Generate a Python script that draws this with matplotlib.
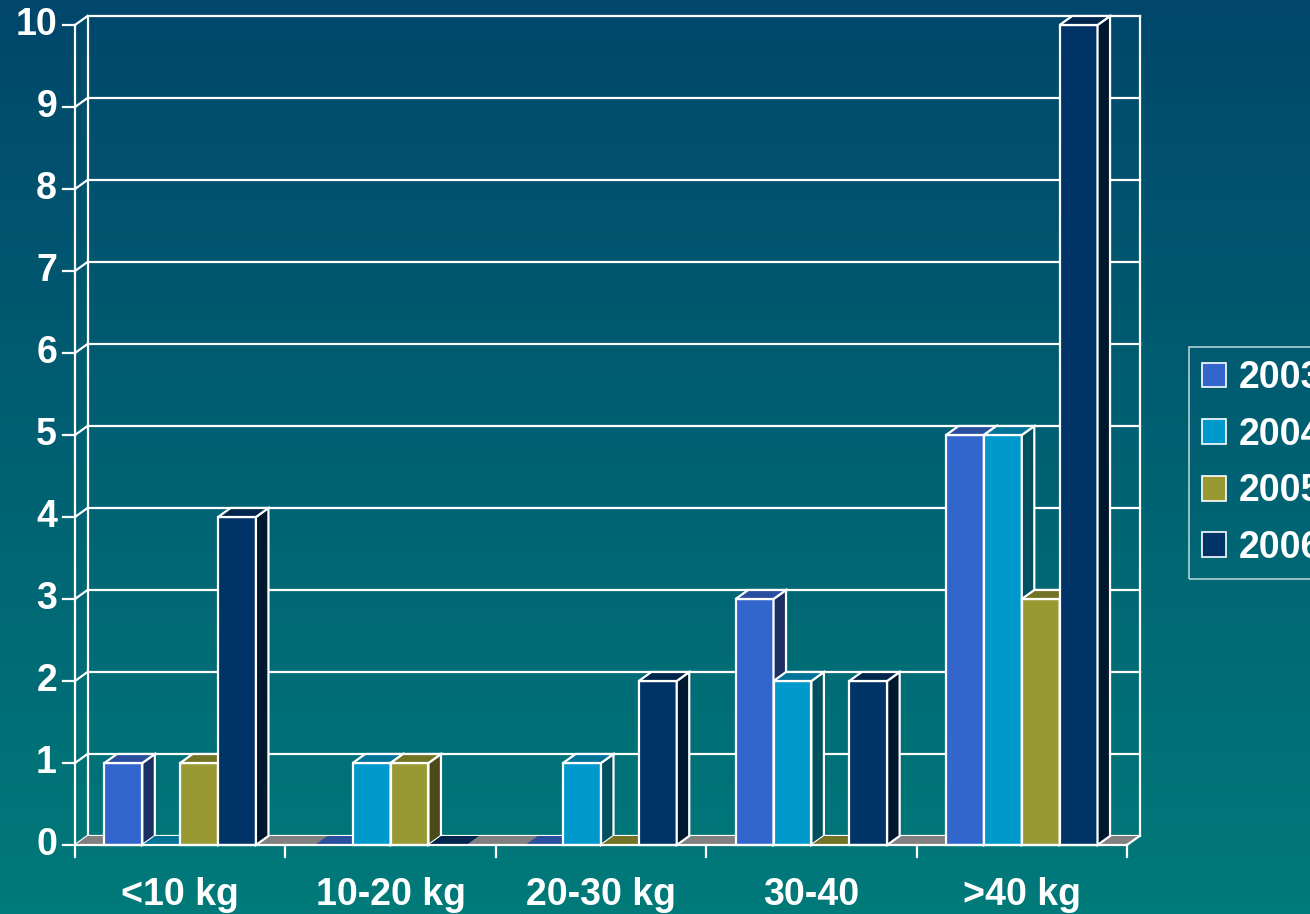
import numpy as np
import matplotlib
matplotlib.use("Agg")
import matplotlib.pyplot as plt
from matplotlib.patches import Polygon, Rectangle, Patch

# ---- data ----
categories = ["<10 kg", "10-20 kg", "20-30 kg", "30-40", ">40 kg"]
series_names = ["2003", "2004", "2005", "2006"]
vals_2003 = [1, 0, 0, 3, 5]
vals_2004 = [0, 1, 1, 2, 5]
vals_2005 = [1, 1, 0, 0, 3]
vals_2006 = [4, 0, 2, 2, 10]
y_ticks = list(range(0, 11))

series_values = [vals_2003, vals_2004, vals_2005, vals_2006]
front_colors = ["#3366CC", "#0099CC", "#999933", "#003366"]
top_colors = ["#2A4F9E", "#007399", "#737326", "#00264D"]
side_colors = ["#1B2F62", "#00505F", "#4A4A1A", "#00182F"]

plt.rcParams["font.family"] = ["Liberation Sans", "DejaVu Sans"]
plt.rcParams["font.weight"] = "bold"

W, H = 1310, 914
fig = plt.figure(figsize=(W / 100, H / 100), dpi=100)

# vertical gradient background
bg = fig.add_axes([0, 0, 1, 1], zorder=-10)
top_rgb = np.array([0, 71, 107]) / 255
bot_rgb = np.array([0, 122, 122]) / 255
t = np.linspace(0, 1, 256)[:, None]
grad = top_rgb[None, :] * (1 - t) + bot_rgb[None, :] * t
bg.imshow(grad[:, None, :], aspect="auto", extent=[0, 1, 0, 1])
bg.set_axis_off()

# plot area (front plane of the 3-D box)
x_left, x_right, y_bot, y_top = 75, 1127, 845, 25
ax = fig.add_axes([x_left / W, (H - y_bot) / H, (x_right - x_left) / W, (y_bot - y_top) / H])
ax.set_xlim(0, len(categories))
ax.set_ylim(0, 10)
ax.set_axis_off()
ax.patch.set_alpha(0)

px_x = len(categories) / (x_right - x_left)   # data units per pixel, x
px_y = 10 / (y_bot - y_top)                     # data units per pixel, y
DX, DY = 12.5 * px_x, 9 * px_y                  # depth offset
ncat = len(categories)
lw = 1.6
wc = "white"
fs = 27

# back wall gridlines + left wall diagonals + tick marks
for v in y_ticks:
    ax.plot([DX, ncat + DX], [v + DY, v + DY], color=wc, lw=lw, zorder=1, clip_on=False)
    ax.plot([0, DX], [v, v + DY], color=wc, lw=lw, zorder=1, clip_on=False)
    ax.plot([-12 * px_x, 0], [v, v], color=wc, lw=lw, zorder=1, clip_on=False)
    ax.text(-18 * px_x, v, str(v), ha="right", va="center", color="white",
            fontsize=fs, fontweight="bold")

ax.plot([0, 0], [0, 10], color=wc, lw=lw, zorder=1, clip_on=False)
ax.plot([DX, DX], [DY, 10 + DY], color=wc, lw=lw, zorder=1, clip_on=False)
ax.plot([ncat + DX, ncat + DX], [DY, 10 + DY], color=wc, lw=lw, zorder=1, clip_on=False)

# floor
floor = Polygon([(0, 0), (ncat, 0), (ncat + DX, DY), (DX, DY)], closed=True,
                facecolor="#808080", edgecolor="none", zorder=2, clip_on=False)
ax.add_patch(floor)
ax.plot([0, ncat], [0, 0], color=wc, lw=lw, zorder=50, clip_on=False)
ax.plot([ncat, ncat + DX], [0, DY], color=wc, lw=lw, zorder=50, clip_on=False)
for i in range(ncat + 1):
    ax.plot([i, i], [0, -12 * px_y], color=wc, lw=lw, zorder=50, clip_on=False)

# bars
bw = 0.18
pad = (1 - bw * len(series_values)) / 2
z = 3
for i in range(ncat):
    for j, vals in enumerate(series_values):
        h = vals[i]
        x0 = i + pad + j * bw
        if h > 0:
            ax.add_patch(Rectangle((x0, 0), bw, h, facecolor=front_colors[j],
                                   edgecolor=wc, lw=lw, zorder=z, clip_on=False))
            ax.add_patch(Polygon([(x0 + bw, 0), (x0 + bw + DX, DY), (x0 + bw + DX, h + DY),
                                  (x0 + bw, h)], closed=True, facecolor=side_colors[j],
                                 edgecolor=wc, lw=lw, zorder=z, clip_on=False))
            ax.add_patch(Polygon([(x0, h), (x0 + bw, h), (x0 + bw + DX, h + DY), (x0 + DX, h + DY)],
                                 closed=True, facecolor=top_colors[j], edgecolor=wc, lw=lw,
                                 zorder=z, clip_on=False))
        else:
            ax.add_patch(Polygon([(x0, 0), (x0 + bw, 0), (x0 + bw + DX, DY), (x0 + DX, DY)],
                                 closed=True, facecolor=top_colors[j], edgecolor="none",
                                 zorder=z, clip_on=False))
        z += 1

# category labels
for i, cat in enumerate(categories):
    ax.text(i + 0.5, -60 * px_y, cat, ha="center", va="baseline", color="white",
            fontsize=fs, fontweight="bold")

# legend
handles = [Patch(facecolor=c, edgecolor="white", lw=1.2) for c in front_colors]
leg = fig.legend(handles, series_names, loc="upper left",
                 bbox_to_anchor=(1189 / W, 1 - 347 / H), frameon=True, fancybox=False,
                 fontsize=fs, handlelength=0.64, handleheight=0.64, handletextpad=0.35,
                 labelspacing=0.55, borderpad=0.35, borderaxespad=0)
leg.get_frame().set_facecolor("none")
leg.get_frame().set_edgecolor("#DDEEEE")
leg.get_frame().set_linewidth(1.2)
for txt in leg.get_texts():
    txt.set_color("white")
    txt.set_fontweight("bold")

fig.savefig("out.png", dpi=100)
